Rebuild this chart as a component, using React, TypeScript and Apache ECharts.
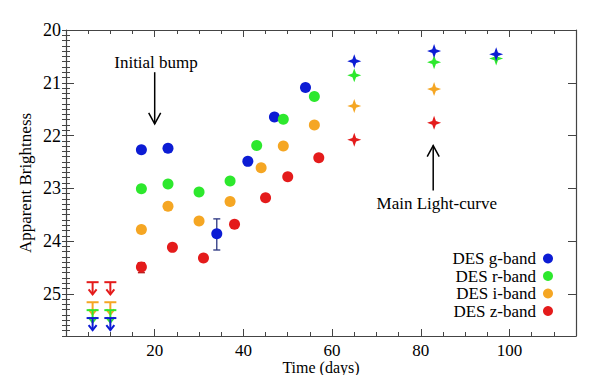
import React, { useEffect, useRef } from "react";
import * as echarts from "echarts";

const bandNames = ["DES g-band", "DES r-band", "DES i-band", "DES z-band"];
const bandColors = ["#0c1cd4", "#2de82d", "#f5a623", "#e41b1b"];

// circle (photometric) points
const gDays = [17, 23, 34, 41, 47, 54];
const gMag = [22.27, 22.24, 23.86, 22.49, 21.65, 21.09];
const rDays = [17, 23, 30, 37, 43, 49, 56];
const rMag = [23.01, 22.92, 23.07, 22.86, 22.19, 21.69, 21.26];
const iDays = [17, 23, 30, 37, 44, 49, 56];
const iMag = [23.78, 23.34, 23.62, 23.25, 22.61, 22.2, 21.8];
const zDays = [17, 24, 31, 38, 45, 50, 57];
const zMag = [24.49, 24.12, 24.32, 23.68, 23.18, 22.78, 22.42];

// star points (main light-curve)
const starDays = [65, 83, 97];
const gStar = [20.59, 20.4, 20.46];
const rStar = [20.86, 20.61, 20.54];
const iStar = [21.44, 21.12];
const zStar = [22.08, 21.76];

// upper limits
const limitDays = [6, 10];
const gLimit = 25.46;
const rLimit = 25.31;
const iLimit = 25.16;
const zLimit = 24.78;

// error bars: [day, low, high, bandIndex]
const errorBars = [
  [34, 23.58, 24.17, 0],
  [17, 24.41, 24.6, 3],
];

// annotations: [arrowX, fromMag, toMag, textX, textMag]
const annotationText = ["Initial bump", "Main Light-curve"];
const annotations = [
  [20, 20.8, 21.78, 20.3, 20.62],
  [82.8, 23.04, 22.19, 83.6, 23.29],
];

const FONT = "'Liberation Serif', 'DejaVu Serif', serif";
const AXIS_COLOR = "#444";
const STAR =
  "path://M0,-10 L2.6,-2.6 L10,0 L2.6,2.6 L0,10 L-2.6,2.6 L-10,0 L-2.6,-2.6 Z";

const zip = (a: number[], b: number[]) => b.map((v, i) => [a[i], v]);

export default function App() {
  const ref = useRef<HTMLDivElement>(null);
  useEffect(() => {
    if (!ref.current) return;
    const chart = echarts.init(ref.current, undefined, { renderer: "svg" });

    const circleData = [
      zip(gDays, gMag),
      zip(rDays, rMag),
      zip(iDays, iMag),
      zip(zDays, zMag),
    ];
    const starData = [
      zip(starDays, gStar),
      zip(starDays, rStar),
      zip(starDays, iStar),
      zip(starDays, zStar),
    ];
    const limits = [gLimit, rLimit, iLimit, zLimit];

    const circleSeries = circleData.map((d, i) => ({
      type: "scatter",
      name: bandNames[i],
      data: d,
      symbol: "circle",
      symbolSize: 11,
      itemStyle: { color: bandColors[i], opacity: 1 },
      z: 5,
    }));
    const starOrder = [3, 2, 1, 0];
    const starSeries = starOrder.map((i) => ({
      type: "scatter",
      name: bandNames[i],
      data: starData[i],
      symbol: STAR,
      symbolSize: 14,
      itemStyle: { color: bandColors[i], opacity: 1 },
      z: 5,
    }));

    const limitSeries = starOrder.map((i) => ({
      type: "custom",
      data: limitDays.map((d) => [d, limits[i]]),
      z: 4,
      renderItem: (_p: any, api: any) => {
        const x = api.value(0);
        const y = api.value(1);
        const p = api.coord([x, y]);
        const tip = api.coord([x, y + 0.23]);
        const c = bandColors[i];
        const st = { stroke: c, lineWidth: 2, fill: "none" };
        return {
          type: "group",
          children: [
            { type: "line", shape: { x1: p[0] - 6, y1: p[1], x2: p[0] + 6, y2: p[1] }, style: st },
            { type: "line", shape: { x1: p[0], y1: p[1], x2: p[0], y2: tip[1] }, style: st },
            {
              type: "polyline",
              shape: { points: [[p[0] - 4, tip[1] - 5], [p[0], tip[1]], [p[0] + 4, tip[1] - 5]] },
              style: st,
            },
          ],
        };
      },
    }));

    const errorSeries = {
      type: "custom",
      data: errorBars,
      z: 4,
      renderItem: (_p: any, api: any) => {
        const x = api.value(0);
        const lo = api.coord([x, api.value(1)]);
        const hi = api.coord([x, api.value(2)]);
        const idx = api.value(3);
        const c = idx === 0 ? "#2a3580" : "#b01818";
        const st = { stroke: c, lineWidth: 1.3 };
        return {
          type: "group",
          children: [
            { type: "line", shape: { x1: lo[0], y1: lo[1], x2: hi[0], y2: hi[1] }, style: st },
            { type: "line", shape: { x1: lo[0] - 3.5, y1: lo[1], x2: lo[0] + 3.5, y2: lo[1] }, style: st },
            { type: "line", shape: { x1: hi[0] - 3.5, y1: hi[1], x2: hi[0] + 3.5, y2: hi[1] }, style: st },
          ],
        };
      },
    };

    const annotationSeries = {
      type: "custom",
      data: annotations,
      z: 6,
      renderItem: (params: any, api: any) => {
        const x = api.value(0);
        const from = api.coord([x, api.value(1)]);
        const to = api.coord([x, api.value(2)]);
        const t = api.coord([api.value(3), api.value(4)]);
        const dir = to[1] > from[1] ? 1 : -1;
        const st = { stroke: "#000", lineWidth: 1.5, fill: "none" };
        return {
          type: "group",
          children: [
            { type: "line", shape: { x1: from[0], y1: from[1], x2: to[0], y2: to[1] }, style: st },
            {
              type: "polyline",
              shape: {
                points: [
                  [to[0] - 6, to[1] - dir * 11],
                  [to[0], to[1]],
                  [to[0] + 6, to[1] - dir * 11],
                ],
              },
              style: st,
            },
            {
              type: "text",
              x: t[0],
              y: t[1],
              style: {
                text: annotationText[params.dataIndex],
                fontSize: 17,
                fontFamily: FONT,
                fill: "#000",
                align: "center",
                verticalAlign: "middle",
              },
            },
          ],
        };
      },
    };

    const majorX = (position: string, labels: boolean) => ({
      type: "value",
      min: 0,
      max: 115,
      interval: 20,
      position,
      axisLine: { show: true, onZero: false, lineStyle: { color: AXIS_COLOR, width: 1.2 } },
      axisTick: { show: true, inside: true, length: 7, lineStyle: { color: AXIS_COLOR } },
      axisLabel: {
        show: labels,
        margin: 6,
        fontSize: 17,
        fontFamily: FONT,
        color: "#000",
        formatter: (v: number) => (v > 0 && v % 20 === 0 ? String(v) : ""),
      },
      splitLine: { show: false },
      ...(labels
        ? {
            name: "Time (days)",
            nameLocation: "middle",
            nameGap: 23,
            nameMoveOverlap: false,
            nameTextStyle: { fontSize: 16, fontFamily: FONT, color: "#000" },
          }
        : {}),
    });
    const minorX = (position: string) => ({
      type: "value",
      min: 0,
      max: 115,
      interval: 5,
      position,
      axisLine: { show: false },
      axisTick: { show: true, inside: true, length: 4, lineStyle: { color: AXIS_COLOR } },
      axisLabel: { show: false },
      splitLine: { show: false },
    });
    const majorY = (position: string, labels: boolean) => ({
      type: "value",
      min: 20,
      max: 25.8,
      interval: 1,
      inverse: true,
      position,
      axisLine: { show: true, onZero: false, lineStyle: { color: AXIS_COLOR, width: 1.2 } },
      axisTick: { show: true, inside: true, length: 8, lineStyle: { color: AXIS_COLOR } },
      axisLabel: {
        show: labels,
        margin: 5,
        fontSize: 18,
        fontFamily: FONT,
        color: "#000",
        formatter: (v: number) => (Math.abs(v - Math.round(v)) < 1e-6 ? String(Math.round(v)) : ""),
      },
      splitLine: { show: false },
      ...(labels
        ? {
            name: "Apparent Brightness",
            nameLocation: "middle",
            nameGap: 32,
            nameMoveOverlap: false,
            nameTextStyle: { fontSize: 17, fontFamily: FONT, color: "#000" },
          }
        : {}),
    });
    const minorY = (position: string) => ({
      type: "value",
      min: 20,
      max: 25.8,
      interval: 0.1,
      inverse: true,
      position,
      axisLine: { show: false },
      axisTick: { show: true, inside: true, length: 4, lineStyle: { color: AXIS_COLOR } },
      axisLabel: { show: false },
      splitLine: { show: false },
    });

    chart.setOption({
      animation: false,
      backgroundColor: "#fff",
      grid: {
        left: 66,
        right: 24,
        top: 30,
        bottom: 39,
        containLabel: false,
        outerBoundsMode: "none",
      },
      xAxis: [majorX("bottom", true), minorX("bottom"), majorX("top", false), minorX("top")],
      yAxis: [majorY("left", true), minorY("left"), majorY("right", false), minorY("right")],
      legend: {
        orient: "vertical",
        right: 42,
        top: 245,
        align: "right",
        itemWidth: 14,
        itemHeight: 10,
        itemGap: 0.5,
        selectedMode: false,
        textStyle: { fontSize: 17, fontFamily: FONT, color: "#000", lineHeight: 17 },
        data: bandNames.map((n, i) => ({ name: n, icon: "circle", itemStyle: { color: bandColors[i] } })),
      },
      series: [...limitSeries, errorSeries, ...circleSeries, ...starSeries, annotationSeries],
    });

    return () => chart.dispose();
  }, []);

  return <div ref={ref} style={{ width: 600, height: 375, position: "absolute", left: 0, top: 0 }} />;
}
